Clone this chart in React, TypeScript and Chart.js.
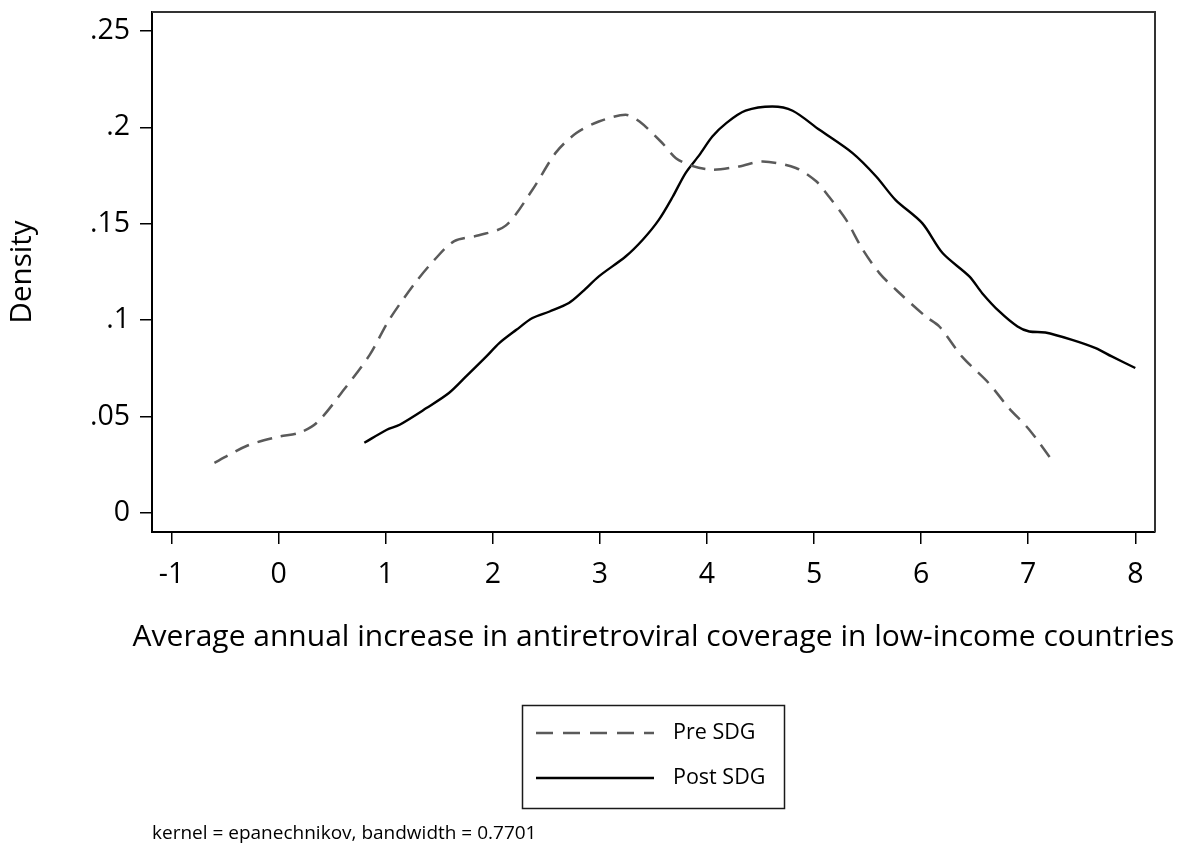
import React, { useEffect, useRef } from "react";
import { Chart, registerables } from "chart.js";

Chart.register(...registerables);

const preX = [-0.6, -0.29, 0.0, 0.19, 0.36, 0.61, 0.85, 1.03, 1.27, 1.45, 1.64, 1.87, 2.12, 2.37, 2.59, 2.78, 2.99, 3.24, 3.37, 3.58, 3.71, 3.86, 4.05, 4.3, 4.52, 4.83, 5.02, 5.14, 5.3, 5.45, 5.61, 5.78, 6.04, 6.17, 6.38, 6.63, 6.82, 7.01, 7.24];
const preY = [0.026, 0.035, 0.0396, 0.0416, 0.047, 0.064, 0.082, 0.1, 0.119, 0.131, 0.141, 0.144, 0.149, 0.1676, 0.187, 0.197, 0.203, 0.2065, 0.203, 0.192, 0.184, 0.18, 0.178, 0.1797, 0.1823, 0.1789, 0.172, 0.164, 0.152, 0.137, 0.1244, 0.115, 0.102, 0.0967, 0.0812, 0.0674, 0.0544, 0.0432, 0.0259];

const postX = [0.8, 1.01, 1.13, 1.38, 1.59, 1.75, 1.94, 2.06, 2.22, 2.37, 2.53, 2.71, 2.84, 2.99, 3.24, 3.4, 3.55, 3.68, 3.8, 3.93, 4.05, 4.18, 4.36, 4.61, 4.8, 5.05, 5.36, 5.58, 5.76, 6.01, 6.2, 6.45, 6.57, 6.73, 6.9, 7.01, 7.16, 7.41, 7.63, 7.78, 8.0];
const postY = [0.0364, 0.0432, 0.0458, 0.0544, 0.0622, 0.0708, 0.0812, 0.0881, 0.095, 0.1011, 0.1045, 0.1089, 0.1149, 0.1227, 0.133, 0.1417, 0.152, 0.164, 0.1763, 0.1857, 0.1952, 0.2022, 0.2086, 0.2108, 0.2086, 0.1987, 0.1866, 0.1745, 0.1624, 0.1503, 0.1348, 0.1227, 0.114, 0.1045, 0.0967, 0.0941, 0.0936, 0.0898, 0.0855, 0.0812, 0.0752];

const xTicks = [-1, 0, 1, 2, 3, 4, 5, 6, 7, 8];
const yTicks = [0, 0.05, 0.1, 0.15, 0.2, 0.25];
const yTickLabels = ["0", ".05", ".1", ".15", ".2", ".25"];

const seriesNames = ["Pre SDG", "Post SDG"];
const xTitle = "Average annual increase in antiretroviral coverage in low-income countries";
const yTitle = "Density";
const note = "kernel = epanechnikov, bandwidth = 0.7701";

const FONT = "'Open Sans'";
const PRE_COLOR = "#5a5a5a";
const POST_COLOR = "#000000";
const PRE_DASH = [15, 9];

export default function App() {
  const ref = useRef<HTMLCanvasElement | null>(null);

  useEffect(() => {
    const canvas = ref.current;
    if (!canvas) return;

    const framePlugin = {
      id: "frameAndLegend",
      afterDraw(chart: any) {
        const ctx = chart.ctx;
        const a = chart.chartArea;
        ctx.save();
        // top & right frame
        ctx.strokeStyle = "#333333";
        ctx.lineWidth = 2;
        ctx.setLineDash([]);
        ctx.beginPath();
        ctx.moveTo(a.left, a.top);
        ctx.lineTo(a.right, a.top);
        ctx.lineTo(a.right, a.bottom);
        ctx.stroke();

        // x-axis title (drawn without width compression)
        ctx.fillStyle = "#000";
        ctx.font = `30px ${FONT}`;
        ctx.textAlign = "center";
        ctx.textBaseline = "middle";
        ctx.fillText(xTitle, (a.left + a.right) / 2, a.bottom + 105);

        // legend box
        const lx = 522.5, ly = 705.5, lw = 262, lh = 103;
        ctx.strokeStyle = "#1a1a1a";
        ctx.lineWidth = 1.5;
        ctx.strokeRect(lx, ly, lw, lh);

        const rows = [
          { name: seriesNames[0], color: PRE_COLOR, dash: [17, 10], y: 733 },
          { name: seriesNames[1], color: POST_COLOR, dash: [], y: 778 },
        ];
        rows.forEach((r) => {
          ctx.strokeStyle = r.color;
          ctx.lineWidth = 2.5;
          ctx.setLineDash(r.dash);
          ctx.beginPath();
          ctx.moveTo(536, r.y);
          ctx.lineTo(654, r.y);
          ctx.stroke();
          ctx.setLineDash([]);
          ctx.fillStyle = "#000";
          ctx.font = `21.5px ${FONT}`;
          ctx.textAlign = "left";
          ctx.textBaseline = "middle";
          ctx.fillText(r.name, 673, r.y);
        });

        // note
        ctx.fillStyle = "#000";
        ctx.font = `19px ${FONT}`;
        ctx.textAlign = "left";
        ctx.textBaseline = "middle";
        ctx.fillText(note, 152, 834);
        ctx.restore();
      },
    };

    const chart = new Chart(canvas, {
      type: "scatter",
      data: {
        datasets: [
          {
            label: seriesNames[0],
            data: preX.map((x, i) => ({ x, y: preY[i] })),
            showLine: true,
            borderColor: PRE_COLOR,
            borderWidth: 2.5,
            borderDash: PRE_DASH,
            pointRadius: 0,
            tension: 0.3,
            fill: false,
          },
          {
            label: seriesNames[1],
            data: postX.map((x, i) => ({ x, y: postY[i] })),
            showLine: true,
            borderColor: POST_COLOR,
            borderWidth: 2.4,
            pointRadius: 0,
            tension: 0.3,
            fill: false,
          },
        ],
      },
      options: {
        animation: false,
        responsive: false,
        devicePixelRatio: 1,
        layout: { autoPadding: false, padding: { left: 0, top: 12, right: 31, bottom: 186 } },
        plugins: {
          legend: { display: false },
          tooltip: { enabled: false },
        },
        scales: {
          x: {
            type: "linear",
            min: -1.183,
            max: 8.184,
            afterBuildTicks: (scale: any) => {
              scale.ticks = xTicks.map((v) => ({ value: v }));
            },
            afterFit: (scale: any) => {
              scale.height = 130;
              scale.paddingLeft = 0;
              scale.paddingRight = 0;
            },
            ticks: {
              autoSkip: false,
              maxRotation: 0,
              padding: 14,
              color: "#000",
              font: { family: FONT, size: 28.5 },
              callback: (v: any) => String(v),
            },
            grid: {
              drawOnChartArea: false,
              drawTicks: true,
              tickLength: 12,
              color: "#000",
              lineWidth: 1.5,
            },
            border: { display: true, color: "#000", width: 2 },
            title: { display: false },
          },
          y: {
            type: "linear",
            min: -0.00985,
            max: 0.2598,
            afterBuildTicks: (scale: any) => {
              scale.ticks = yTicks.map((v) => ({ value: v }));
            },
            afterFit: (scale: any) => {
              scale.width = 152;
              scale.paddingTop = 0;
              scale.paddingBottom = 0;
            },
            ticks: {
              autoSkip: false,
              padding: 10,
              color: "#000",
              font: { family: FONT, size: 28.5 },
              callback: (v: any) => {
                const i = yTicks.findIndex((t) => Math.abs(t - v) < 1e-9);
                return i >= 0 ? yTickLabels[i] : "";
              },
            },
            grid: {
              drawOnChartArea: false,
              drawTicks: true,
              tickLength: 12,
              color: "#000",
              lineWidth: 1.5,
            },
            border: { display: true, color: "#000", width: 2 },
            title: {
              display: true,
              text: yTitle,
              color: "#000",
              font: { family: FONT, size: 29.5 },
              padding: { top: 5, bottom: 0 },
            },
          },
        },
      },
      plugins: [framePlugin],
    });

    return () => chart.destroy();
  }, []);

  return (
    <div style={{ position: "absolute", left: 0, top: 0, width: 1186, height: 848, background: "#fff" }}>
      <canvas ref={ref} width={1186} height={848} style={{ display: "block" }} />
    </div>
  );
}
